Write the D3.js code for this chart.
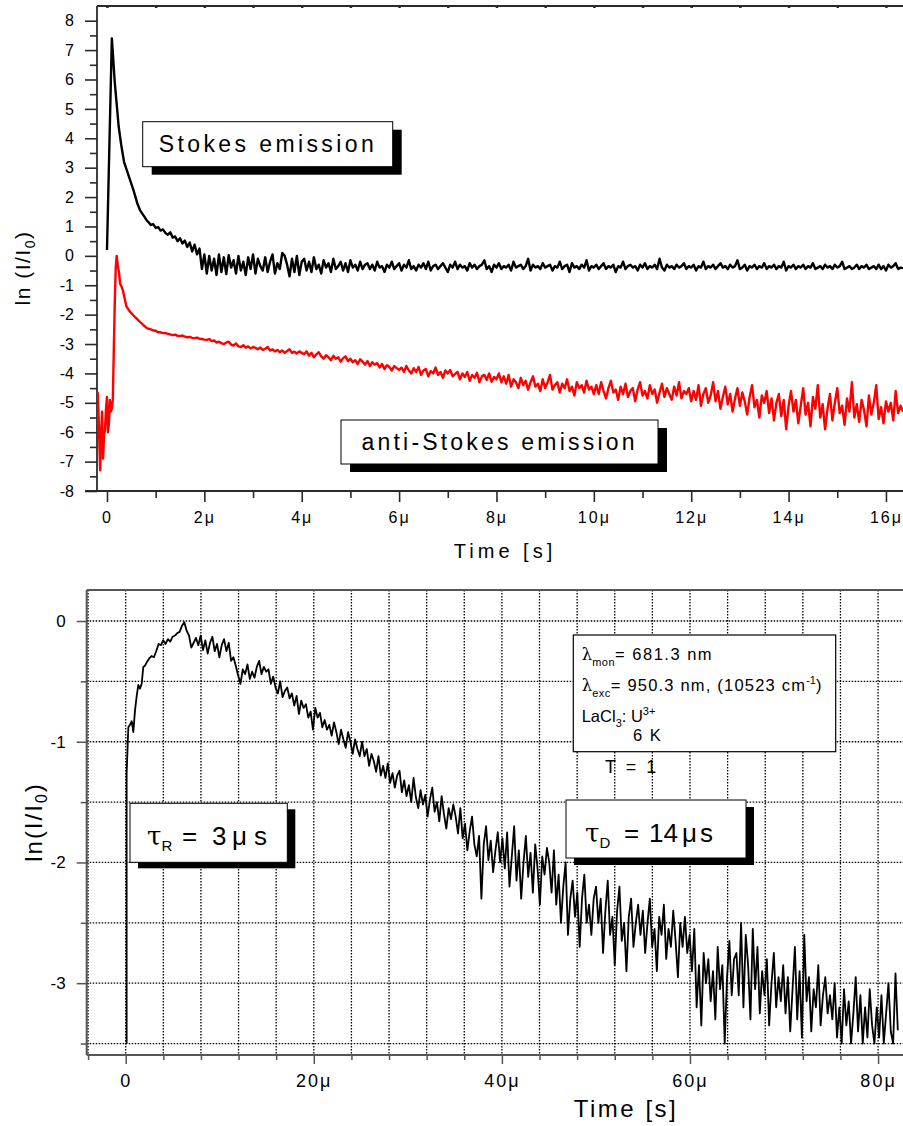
<!DOCTYPE html>
<html>
<head>
<meta charset="utf-8">
<script src="https://cdn.jsdelivr.net/npm/d3@7"></script>
<style>
  html, body { margin: 0; padding: 0; background: #fff; }
  svg { display: block; font-family: "Liberation Sans", Arial, Helvetica, sans-serif; }
</style>
</head>
<body>
<svg id="chart" width="903" height="1126"></svg>
<script>
// ---------------- Upper panel: Stokes / anti-Stokes transients ----------------
// Time in microseconds, values are ln(I/I0).
const stokesHead = [[0.0,0.2],[0.10,7.4],[0.16,5.9],[0.24,4.4],[0.29,3.8],[0.35,3.2],[0.41,2.9],
  [0.47,2.6],[0.55,2.2],[0.62,1.8],[0.68,1.55],[0.76,1.35],[0.82,1.2]];
const stokesTailStart = 0.85, stokesTailEnd = 16.35;
const stokesTail = [
  1.15,1.05,1.08,0.95,0.98,0.86,0.9,0.78,
  0.72,0.8,0.62,0.66,0.5,0.6,0.42,0.52,0.3,0.45,0.15,0.38,0.05,0.25,
  -0.45,0.05,-0.6,0.0,-0.5,-0.1,-0.65,0.05,-0.55,-0.05,-0.62,0.02,-0.4,-0.15,-0.6,0.0,-0.5,-0.2,-0.65,-0.05,
  -0.45,0.05,-0.6,-0.1,-0.35,-0.5,-0.05,-0.55,-0.2,0.05,-0.6,-0.25,-0.45,0.1,0.0,-0.3,-0.7,-0.1,-0.55,0.0,-0.65,-0.2,
  -0.1,-0.5,-0.2,-0.55,-0.05,-0.45,-0.3,-0.6,-0.15,-0.4,-0.25,-0.55,-0.1,-0.45,-0.35,-0.2,-0.5,-0.25,-0.55,-0.15,
  -0.4,-0.3,-0.5,-0.2,-0.45,-0.3,
  -0.25,-0.45,-0.3,-0.5,-0.2,-0.4,-0.35,-0.55,-0.3,-0.4,
  -0.2,-0.45,-0.35,-0.25,-0.5,-0.3,-0.4,-0.15,-0.45,-0.35,
  -0.5,-0.3,-0.4,-0.25,-0.45,-0.2,-0.5,-0.35,-0.3,-0.45,
  -0.35,-0.25,-0.4,-0.55,-0.3,-0.4,-0.2,-0.45,-0.3,-0.4,
  -0.35,-0.5,-0.25,-0.4,-0.3,-0.45,-0.35,-0.3,-0.15,-0.45,
  -0.35,-0.55,-0.3,-0.4,-0.25,-0.45,-0.35,-0.4,-0.3,-0.5,
  -0.2,-0.4,-0.35,-0.3,-0.45,-0.35,-0.1,-0.5,-0.3,-0.4,
  -0.35,-0.45,-0.25,-0.4,-0.35,-0.3,-0.5,-0.35,-0.4,-0.2,
  -0.45,-0.35,-0.3,-0.55,-0.25,-0.4,-0.35,-0.45,-0.3,-0.4,
  -0.15,-0.5,-0.35,-0.4,-0.3,-0.45,-0.35,-0.25,-0.45,-0.35,
  -0.4,-0.3,-0.55,-0.35,-0.4,-0.2,-0.45,-0.35,-0.3,-0.4,
  -0.35,-0.5,-0.3,-0.4,-0.25,-0.45,-0.35,-0.4,-0.3,-0.45,
  -0.1,-0.4,-0.5,-0.3,-0.4,-0.35,-0.45,-0.3,-0.4,-0.35,
  -0.25,-0.45,-0.35,-0.4,-0.3,-0.5,-0.35,-0.4,-0.2,-0.45,
  -0.35,-0.4,-0.3,-0.45,-0.35,-0.25,-0.4,-0.35,-0.45,-0.3,
  -0.4,-0.35,-0.15,-0.45,-0.4,-0.3,-0.5,-0.35,-0.4,-0.3,
  -0.45,-0.35,-0.4,-0.25,-0.45,-0.35,-0.4,-0.3,-0.45,-0.35,
  -0.4,-0.2,-0.5,-0.35,-0.4,-0.3,-0.45,-0.35,-0.4,-0.3,
  -0.45,-0.35,-0.4,-0.25,-0.45,-0.4,-0.35,-0.45,-0.3,-0.4,
  -0.35,-0.45,-0.3,-0.4,-0.35,-0.2,-0.45,-0.4,-0.35,-0.45,
  -0.4,-0.3,-0.45,-0.35,-0.4,-0.3,-0.45,-0.4,-0.35,-0.45,
  -0.3,-0.45,-0.35,-0.5,-0.3,-0.4,-0.35,-0.25,-0.45,-0.4,-0.42
];

const antiHead = [[-0.21,-5.75],[-0.19,-4.66],[-0.17,-5.6],[-0.14,-7.3],[-0.12,-6.0],[-0.10,-5.3],
  [-0.08,-6.9],[-0.06,-6.1],[-0.04,-5.9],[-0.02,-5.2],[0.0,-4.8],[0.02,-6.0],[0.04,-5.7],[0.06,-4.9],
  [0.08,-5.3],[0.10,-5.2],[0.12,-4.9],[0.14,-3.2],[0.16,-1.6],[0.18,-0.4],[0.20,0.0],[0.22,-0.3],
  [0.25,-0.6],[0.27,-0.95],[0.30,-1.05],[0.33,-1.2],[0.37,-1.5],[0.40,-1.72],[0.45,-1.85],[0.50,-1.95],
  [0.54,-2.02],[0.60,-2.12],[0.68,-2.25],[0.75,-2.36],[0.82,-2.46]];
const antiTailStart = 0.85, antiTailEnd = 16.35;
const antiTail = [
  -2.48,-2.5,-2.54,-2.55,-2.6,-2.6,-2.63,-2.62,-2.66,-2.67,-2.7,-2.68,-2.72,-2.73,-2.71,-2.75,-2.77,-2.76,-2.79,-2.8,-2.78,-2.82,-2.83,-2.85,
  -2.86,-2.83,-2.9,-2.88,-2.95,-2.92,-2.97,-3.0,-2.95,-2.92,-3.02,-3.05,-2.98,-3.08,-3.1,-3.04,-3.12,-3.08,-3.15,-3.1,
  -3.13,-3.18,-3.12,-3.2,-3.16,-3.1,-3.22,-3.18,-3.25,-3.2,-3.28,-3.22,-3.3,-3.24,-3.18,-3.3,-3.26,-3.32,-3.25,-3.3,
  -3.35,-3.25,-3.4,-3.3,-3.45,-3.35,-3.28,-3.42,-3.5,-3.38,-3.45,-3.55,-3.4,-3.5,-3.45,-3.6,-3.48,-3.42,-3.58,-3.5,
  -3.62,-3.55,-3.68,-3.52,-3.6,-3.7,-3.58,-3.75,-3.62,-3.7,-3.65,-3.8,-3.68,-3.85,-3.72,-3.78,-3.9,-3.75,-3.82,-3.88,
  -3.8,-3.95,-3.75,-3.9,-4.0,-3.82,-3.95,-3.78,-4.05,-3.9,-3.85,-4.1,-3.92,-4.0,-3.8,-4.05,-3.95,-4.15,-3.9,-4.0,
  -3.88,-4.1,-4.02,-3.95,-4.2,-4.0,-4.12,-3.95,-4.25,-4.05,-4.15,-3.98,-4.3,-4.1,-4.05,-4.22,-4.0,-4.28,-4.12,-4.2,
  -4.0,-4.3,-4.1,-4.35,-4.05,-4.45,-4.2,-4.3,-4.5,-4.15,-4.4,-4.25,-4.55,-4.3,-4.1,-4.45,-4.35,-4.6,-4.2,-4.5,
  -4.3,-4.05,-4.55,-4.4,-4.3,-4.65,-4.35,-4.5,-4.2,-4.6,-4.45,-4.75,-4.3,-4.5,-4.4,-4.65,-4.25,-4.55,-4.45,-4.7,
  -4.4,-4.7,-4.3,-4.6,-4.85,-4.5,-4.25,-4.65,-4.55,-4.9,-4.45,-4.7,-4.35,-4.8,-4.6,-4.5,-4.95,-4.55,-4.3,-4.75,
  -4.6,-4.85,-4.4,-4.7,-4.55,-5.0,-4.65,-4.35,-4.8,-4.5,-4.7,-4.9,-4.45,-4.75,-4.3,-4.85,-4.6,-4.7,-4.5,-4.95,
  -4.6,-4.9,-4.4,-5.1,-4.7,-4.5,-5.0,-4.75,-4.3,-4.95,-4.6,-5.2,-4.8,-4.45,-5.05,-4.7,-5.3,-4.85,-4.5,-5.1,
  -4.65,-4.95,-5.4,-4.8,-4.4,-5.15,-4.9,-5.5,-4.75,-5.0,-4.6,-5.35,-4.85,-5.6,-5.0,-4.7,-5.45,-4.9,-5.9,-5.1,
  -4.6,-5.3,-4.9,-5.7,-5.1,-4.5,-5.4,-5.0,-5.8,-4.8,-5.2,-4.4,-5.5,-5.05,-5.9,-5.2,-4.7,-5.6,-5.0,-4.5,
  -5.35,-5.1,-5.75,-4.85,-5.3,-4.3,-5.5,-5.05,-5.65,-4.9,-5.25,-5.8,-4.75,-5.4,-5.0,-4.4,-5.55,-5.15,-5.7,-4.95,
  -5.3,-5.0,-5.6,-4.6,-5.35,-5.1,-5.3
];

const topYTicks = [-8,-7,-6,-5,-4,-3,-2,-1,0,1,2,3,4,5,6,7,8];
const topYMinor = [-7.5,-6.5,-5.5,-4.5,-3.5,-2.5,-1.5,-0.5,0.5,1.5,2.5,3.5,4.5,5.5,6.5,7.5];
const topXTicks = [0,2,4,6,8,10,12,14,16];
const topXMinor = [1,3,5,7,9,11,13,15];
const topXSmall = [0,1,2,3,4,5,6,7,8,9,10,11,12,13,14,15,16];

// ---------------- Lower panel: decay at 6 K ----------------
const decayHead = [[0.1,-3.5],[0.1,-1.26],[0.28,-0.88],[0.46,-0.86],[0.64,-0.83],[0.81,-0.92],[0.99,-0.74],
  [1.17,-0.62],[1.34,-0.53],[1.52,-0.56],[1.7,-0.52],[1.87,-0.38],[2.05,-0.37]];
const decayTailStart = 2.25, decayTailEnd = 82.1;
const decayTail = [
  -0.34,-0.31,-0.29,-0.3,-0.25,-0.19,-0.2,-0.16,-0.19,-0.15,-0.17,-0.13,
  -0.12,-0.1,-0.09,-0.04,-0.01,-0.08,-0.12,-0.22,-0.18,-0.14,-0.2,-0.12,-0.24,-0.16,-0.27,-0.18,-0.13,-0.25,-0.19,-0.3,
  -0.2,-0.15,-0.25,-0.18,-0.33,-0.3,-0.37,-0.45,-0.52,-0.4,-0.44,-0.36,-0.48,-0.42,-0.47,-0.38,-0.33,-0.44,-0.38,-0.42,
  -0.4,-0.52,-0.46,-0.55,-0.6,-0.5,-0.63,-0.58,-0.55,-0.64,-0.6,-0.7,-0.62,-0.77,-0.66,-0.72,-0.69,-0.8,-0.75,-0.9,
  -0.72,-0.8,-0.76,-0.88,-0.82,-0.9,-0.86,-0.95,-0.84,-0.92,-1.02,-0.9,-0.98,-1.05,-0.92,-1.0,-1.1,-0.98,-1.06,-1.12,
  -1.0,-1.12,-1.06,-1.2,-1.1,-1.16,-1.25,-1.12,-1.28,-1.2,-1.3,-1.18,-1.34,-1.26,-1.38,-1.28,-1.24,-1.42,-1.32,-1.45,
  -1.36,-1.5,-1.3,-1.46,-1.55,-1.4,-1.52,-1.44,-1.62,-1.48,-1.38,-1.58,-1.5,-1.66,-1.45,-1.6,-1.72,-1.55,-1.64,-1.52,
  -1.62,-1.76,-1.55,-1.8,-1.68,-1.9,-1.74,-1.62,-1.85,-1.95,-1.78,-2.3,-1.85,-1.7,-1.98,-1.82,-2.08,-1.9,-1.75,-2.0,
  -1.8,-2.05,-1.75,-2.2,-1.95,-1.7,-2.15,-1.9,-2.3,-2.0,-1.78,-2.12,-1.92,-2.25,-1.85,-2.05,-2.35,-1.95,-2.1,-1.88,
  -2.0,-2.25,-1.9,-2.35,-2.1,-2.5,-2.2,-2.0,-2.6,-2.3,-2.15,-2.45,-2.25,-2.7,-2.3,-2.1,-2.5,-2.35,-2.6,-2.3,
  -2.2,-2.5,-2.3,-2.75,-2.4,-2.15,-2.6,-2.45,-2.85,-2.4,-2.2,-2.65,-2.5,-2.9,-2.45,-2.3,-2.7,-2.5,-2.35,-2.6,
  -2.4,-2.75,-2.5,-2.3,-2.7,-2.55,-2.9,-2.45,-2.6,-2.35,-2.8,-2.55,-2.7,-2.4,-2.65,-2.95,-2.5,-2.7,-2.45,-2.75,
  -2.6,-2.9,-2.55,-3.2,-2.85,-3.35,-2.75,-3.0,-2.8,-3.15,-2.9,-3.3,-2.7,-3.05,-2.85,-3.5,-2.95,-2.65,-3.1,-2.8,
  -2.75,-3.1,-2.5,-3.2,-2.6,-2.85,-3.3,-2.55,-3.05,-2.7,-3.25,-2.9,-3.1,-2.8,-3.35,-3.0,-2.75,-3.2,-2.95,-3.15,
  -2.85,-3.25,-2.95,-3.4,-3.05,-2.7,-3.3,-2.9,-3.45,-2.6,-3.15,-2.95,-3.4,-3.05,-3.2,-2.85,-3.35,-3.1,-2.95,-3.25,
  -3.1,-3.3,-3.0,-3.45,-3.2,-3.5,-3.05,-3.35,-3.15,-3.5,-3.25,-2.95,-3.4,-3.1,-3.5,-3.2,-3.45,-3.05,-3.35,-3.5,
  -3.2,-3.45,-3.1,-3.5,-3.25,-3.0,-3.4,-3.5,-2.92,-3.39
];

const botYTicks = [0,-1,-2,-3];
const botYMinor = [-0.5,-1.5,-2.5,-3.5];
const botXTicks = [0,20,40,60,80];
const botXMinor = [-4,4,8,12,16,24,28,32,36,44,48,52,56,64,68,72,76];
const botGridX = [-4,0,4,8,12,16,20,24,28,32,36,40,44,48,52,56,60,64,68,72,76,80];
const botGridY = [0,-0.5,-1,-1.5,-2,-2.5,-3,-3.5];

// ---------------------------------------------------------------
const svg = d3.select("#chart");
const AXIS = "#2a2a2a";

// evenly sampled tail appended after the hand-placed leading points
function series(head, tail, t0, t1) {
  const dt = (t1 - t0) / (tail.length - 1);
  return head.map(([t, v]) => ({ t, v }))
    .concat(tail.map((v, i) => ({ t: t0 + i * dt, v })));
}
const micro = d => d === 0 ? "0" : d + "μ";

function styleAxis(g, opts) {
  g.select(".domain").remove();
  g.selectAll(".tick line").attr("stroke", opts.color || AXIS).attr("stroke-width", opts.width || 1.6);
  g.selectAll(".tick text")
    .attr("fill", "#000")
    .style("font-size", (opts.fontSize || 16) + "px")
    .style("letter-spacing", (opts.spacing || 0) + "px")
    .style("font-family", '"Liberation Sans", Arial, sans-serif');
}

function labelBox(g, x, y, w, h, dx, dy) {
  g.append("rect").attr("x", x + dx).attr("y", y + dy).attr("width", w).attr("height", h).attr("fill", "#000");
  g.append("rect").attr("x", x).attr("y", y).attr("width", w).attr("height", h)
    .attr("fill", "#fff").attr("stroke", "#000").attr("stroke-width", 1);
}

// ===== Upper panel =====
const P1 = { left: 97, right: 903, top: 6, bottom: 491 };
const x1 = d3.scaleLinear().domain([-0.205, 16.35]).range([P1.left, P1.right]);
const y1 = d3.scaleLinear().domain([-8, 8.5]).range([P1.bottom, P1.top]);

svg.append("clipPath").attr("id", "clip1").append("rect")
  .attr("x", P1.left).attr("y", P1.top).attr("width", P1.right - P1.left).attr("height", P1.bottom - P1.top);

const g1 = svg.append("g");

// axes
g1.append("g").attr("transform", `translate(${P1.left},0)`)
  .call(d3.axisLeft(y1).tickValues(topYTicks).tickSize(12).tickPadding(11).tickFormat(d => String(d)))
  .call(g => styleAxis(g, { fontSize: 16 }));
g1.append("g").attr("transform", `translate(${P1.left},0)`)
  .call(d3.axisLeft(y1).tickValues(topYMinor).tickSize(7).tickFormat(""))
  .call(g => styleAxis(g, {}));
g1.append("g").attr("transform", `translate(0,${P1.bottom})`)
  .call(d3.axisBottom(x1).tickValues(topXTicks).tickSize(11).tickPadding(10).tickFormat(micro))
  .call(g => styleAxis(g, { fontSize: 16, spacing: 2 }));
g1.append("g").attr("transform", `translate(0,${P1.bottom})`)
  .call(d3.axisBottom(x1).tickValues(topXMinor).tickSize(7).tickFormat(""))
  .call(g => styleAxis(g, {}));
g1.append("g").attr("transform", `translate(0,${P1.top})`)
  .call(d3.axisBottom(x1).tickValues(topXSmall).tickSize(2).tickFormat(""))
  .call(g => styleAxis(g, { width: 2.5 }));

g1.append("line").attr("x1", P1.left).attr("x2", P1.left).attr("y1", P1.top).attr("y2", P1.bottom)
  .attr("stroke", AXIS).attr("stroke-width", 1.8);
g1.append("line").attr("x1", P1.left).attr("x2", P1.right).attr("y1", P1.top).attr("y2", P1.top)
  .attr("stroke", AXIS).attr("stroke-width", 1.8);
g1.append("line").attr("x1", P1.left - 12).attr("x2", P1.right).attr("y1", P1.bottom).attr("y2", P1.bottom)
  .attr("stroke", AXIS).attr("stroke-width", 1.8);

// curves
const line1 = d3.line().x(d => x1(d.t)).y(d => y1(d.v));
const curves1 = g1.append("g").attr("clip-path", "url(#clip1)");
curves1.append("path").datum(series(antiHead, antiTail, antiTailStart, antiTailEnd))
  .attr("d", line1).attr("fill", "none").attr("stroke", "#ff0000").attr("stroke-width", 2.4)
  .attr("stroke-linejoin", "round");
curves1.append("path").datum(series(stokesHead, stokesTail, stokesTailStart, stokesTailEnd))
  .attr("d", line1).attr("fill", "none").attr("stroke", "#000").attr("stroke-width", 2.4)
  .attr("stroke-linejoin", "round");

// captions
labelBox(g1, 142.7, 121.7, 250, 45, 9, 8);
g1.append("text").attr("x", 158.7).attr("y", 151.7).style("font-size", "23px").style("letter-spacing", "3.4px")
  .text("Stokes emission");
labelBox(g1, 341, 420, 317, 44, 9, 8);
g1.append("text").attr("x", 361.5).attr("y", 450).style("font-size", "23px").style("letter-spacing", "3.2px")
  .text("anti-Stokes emission");

// titles
g1.append("text").attr("x", 505).attr("y", 557.5).attr("text-anchor", "middle")
  .style("font-size", "20px").style("letter-spacing", "4px").text("Time [s]");
const yt1 = g1.append("text").attr("transform", "translate(30,268) rotate(-90)").attr("text-anchor", "middle")
  .style("font-size", "21px").style("letter-spacing", "1.5px");
yt1.append("tspan").text("ln (I/I");
yt1.append("tspan").attr("dy", 5).style("font-size", "14px").text("0");
yt1.append("tspan").attr("dy", -5).text(")");

// ===== Lower panel =====
const P2 = { left: 86.7, right: 903, top: 590, bottom: 1055 };
const x2 = d3.scaleLinear().domain([-4.147, 82.65]).range([P2.left, P2.right]);
const y2 = d3.scaleLinear().domain([-3.595, 0.257]).range([P2.bottom, P2.top]);

svg.append("clipPath").attr("id", "clip2").append("rect")
  .attr("x", P2.left).attr("y", P2.top).attr("width", P2.right - P2.left).attr("height", P2.bottom - P2.top);

const g2 = svg.append("g");

// dotted grid
g2.append("g").selectAll("line").data(botGridX).join("line")
  .attr("x1", d => x2(d)).attr("x2", d => x2(d)).attr("y1", P2.top).attr("y2", P2.bottom)
  .attr("stroke", "#000").attr("stroke-width", 1.3).attr("stroke-dasharray", "1.5,1.5");
g2.append("g").selectAll("line").data(botGridY).join("line")
  .attr("x1", P2.left).attr("x2", P2.right).attr("y1", d => y2(d)).attr("y2", d => y2(d))
  .attr("stroke", "#000").attr("stroke-width", 1.3).attr("stroke-dasharray", "1.5,1.5");

// frame
const FRAME = "#555";
g2.append("line").attr("x1", P2.left).attr("x2", P2.right).attr("y1", P2.top).attr("y2", P2.top)
  .attr("stroke", FRAME).attr("stroke-width", 2);
g2.append("line").attr("x1", P2.left).attr("x2", P2.left).attr("y1", P2.top).attr("y2", P2.bottom)
  .attr("stroke", FRAME).attr("stroke-width", 2);
g2.append("line").attr("x1", P2.left).attr("x2", P2.right).attr("y1", P2.bottom).attr("y2", P2.bottom)
  .attr("stroke", FRAME).attr("stroke-width", 2);

// axes
g2.append("g").attr("transform", `translate(${P2.left},0)`)
  .call(d3.axisLeft(y2).tickValues(botYTicks).tickSize(10).tickPadding(11).tickFormat(d => String(d)))
  .call(g => styleAxis(g, { fontSize: 17, color: FRAME, width: 1.5 }));
g2.append("g").attr("transform", `translate(${P2.left},0)`)
  .call(d3.axisLeft(y2).tickValues(botYMinor).tickSize(6).tickFormat(""))
  .call(g => styleAxis(g, { color: FRAME, width: 1.5 }));
g2.append("g").attr("transform", `translate(0,${P2.bottom})`)
  .call(d3.axisBottom(x2).tickValues(botXTicks).tickSize(9).tickPadding(10).tickFormat(micro))
  .call(g => styleAxis(g, { fontSize: 18, spacing: 2, color: FRAME, width: 1.5 }));
g2.append("g").attr("transform", `translate(0,${P2.bottom})`)
  .call(d3.axisBottom(x2).tickValues(botXMinor).tickSize(5).tickFormat(""))
  .call(g => styleAxis(g, { color: FRAME, width: 1.5 }));

// decay curve
const line2 = d3.line().x(d => x2(d.t)).y(d => y2(d.v));
g2.append("g").attr("clip-path", "url(#clip2)")
  .append("path").datum(series(decayHead, decayTail, decayTailStart, decayTailEnd))
  .attr("d", line2).attr("fill", "none").attr("stroke", "#000").attr("stroke-width", 1.8)
  .attr("stroke-linejoin", "round");

// information box
g2.append("rect").attr("x", 573.3).attr("y", 635).attr("width", 262.4).attr("height", 116.7)
  .attr("fill", "#fff").attr("stroke", "#000").attr("stroke-width", 1.2);
const info = g2.append("g").style("font-size", "16.5px");
const l1 = info.append("text").attr("x", 581.7).attr("y", 660);
l1.append("tspan").style("font-family", "'DejaVu Serif', serif").text("λ");
l1.append("tspan").attr("dy", 6).style("font-size", "11px").style("letter-spacing", "0.5px").text("mon");
l1.append("tspan").attr("dy", -6).style("letter-spacing", "1.5px").text("= 681.3 nm");
const l2 = info.append("text").attr("x", 581.7).attr("y", 691);
l2.append("tspan").style("font-family", "'DejaVu Serif', serif").text("λ");
l2.append("tspan").attr("dy", 6).style("font-size", "11px").style("letter-spacing", "0.5px").text("exc");
l2.append("tspan").attr("dy", -6).style("letter-spacing", "1.2px").text("= 950.3 nm, (10523 cm");
l2.append("tspan").attr("dy", -7).style("font-size", "11px").text("-1");
l2.append("tspan").attr("dy", 7).text(")");
const l3 = info.append("text").attr("x", 581.7).attr("y", 722);
l3.append("tspan").text("LaCl");
l3.append("tspan").attr("dy", 5).style("font-size", "11px").text("3");
l3.append("tspan").attr("dy", -5).text(": U");
l3.append("tspan").attr("dy", -7).style("font-size", "11px").text("3+");
info.append("text").attr("x", 633).attr("y", 741).style("letter-spacing", "1.5px").text("6 K");
g2.append("text").attr("x", 605).attr("y", 773).style("font-size", "18px").style("letter-spacing", "2.5px").text("T = 1");

// lifetime captions
labelBox(g2, 130, 803.3, 157.3, 59, 8, 6);
const tr = g2.append("text").attr("y", 845).style("font-size", "26px");
tr.append("tspan").attr("x", 147).style("font-family", "'DejaVu Serif', serif").text("τ");
tr.append("tspan").attr("dy", 6).style("font-size", "15px").text("R");
tr.append("tspan").attr("x", 182).attr("dy", -6).text("=");
tr.append("tspan").attr("x", 212).text("3");
tr.append("tspan").attr("x", 232).text("μ");
tr.append("tspan").attr("x", 254).text("s");

labelBox(g2, 566, 800, 180, 58, 8, 7);
const td = g2.append("text").attr("y", 841.7).style("font-size", "26px");
td.append("tspan").attr("x", 585).style("font-family", "'DejaVu Serif', serif").text("τ");
td.append("tspan").attr("dy", 6).style("font-size", "15px").text("D");
td.append("tspan").attr("x", 624).attr("dy", -6).text("=");
td.append("tspan").attr("x", 649).text("14");
td.append("tspan").attr("x", 682).text("μ");
td.append("tspan").attr("x", 700).text("s");

// titles
g2.append("text").attr("x", 626).attr("y", 1117).attr("text-anchor", "middle")
  .style("font-size", "24px").style("letter-spacing", "2.5px").text("Time [s]");
const yt2 = g2.append("text").attr("transform", "translate(42,822) rotate(-90)").attr("text-anchor", "middle")
  .style("font-size", "24px").style("letter-spacing", "2px");
yt2.append("tspan").text("ln(I/I");
yt2.append("tspan").attr("dy", 5).style("font-size", "16px").text("0");
yt2.append("tspan").attr("dy", -5).text(")");
</script>
</body>
</html>
